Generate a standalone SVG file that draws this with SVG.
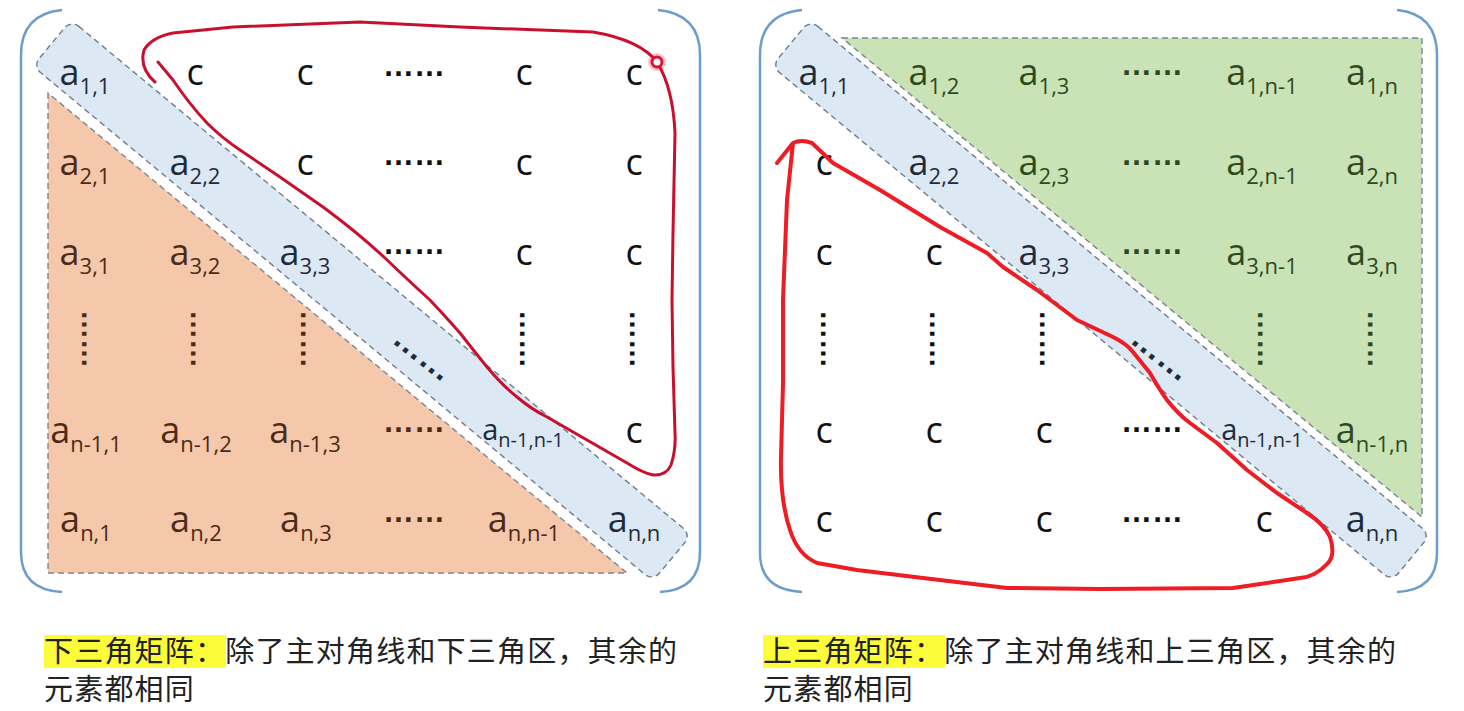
<svg xmlns="http://www.w3.org/2000/svg" width="1464" height="711" viewBox="0 0 1464 711">
<style>
.br{fill:none;stroke:#6c9dcb;stroke-width:2.5}
.reg{stroke:#7b8794;stroke-width:1.4;stroke-dasharray:6 4}
.of{fill:#f5c7ab}
.gf{fill:#c9e2b6}
.band{fill:#dce8f4;stroke:#6f7d8c;stroke-width:1.4;stroke-dasharray:6 4}
.m{font-family:"Open Sans","Noto Sans",sans-serif;font-size:36px;text-anchor:middle}
.s{font-size:22px}
.sm{font-size:29px}
.ss{font-size:20px}
.cb{fill:#1f2b3b}
.co{fill:#4b2b16}
.cg{fill:#2d4a1e}
.ck{fill:#111}
.d{font-family:"Liberation Sans",sans-serif;font-weight:bold;font-size:31px}
.dv{font-family:"Liberation Sans",sans-serif;font-weight:bold;font-size:29px}
.dd{font-family:"Liberation Sans",sans-serif;font-weight:bold;font-size:33px}
.cap{font-family:"Noto Sans CJK SC",sans-serif;font-size:29px;letter-spacing:1.2px;fill:#222}
.hl{fill:#fdfc3a}
.ink1{fill:none;stroke:#c8102e;stroke-width:3;stroke-linecap:round;stroke-linejoin:round}
.ink2{fill:none;stroke:#ee1c25;stroke-width:4;stroke-linecap:round;stroke-linejoin:round}
</style>
<rect width="1464" height="711" fill="#ffffff"/>

<g id="lower-matrix">
  <g id="lower-brackets">
    <path class="br" d="M62,10 Q21,14 21,55 L21,552 Q21,590 62,592"/>
    <path class="br" d="M658,10 Q700,14 700,55 L700,552 Q700,590 660,592"/>
  </g>
  <g id="lower-triangle">
    <polygon class="of reg" points="48,93 48,573 627,573"/>
  </g>
  <g id="lower-diagonal">
    <rect class="band" x="-41" y="270.5" width="806" height="60" rx="10" transform="rotate(39.7 362 300.5)"/>
  </g>
  <g id="lower-cells">
    <text class="m cb" x="85" y="85">a<tspan class="s" dy="9">1,1</tspan></text>
    <text class="m ck" x="195" y="85">c</text>
    <text class="m ck" x="305" y="85">c</text>
    <text class="d ck" x="383" y="76">……</text>
    <text class="m ck" x="524" y="85">c</text>
    <text class="m ck" x="634" y="85">c</text>

    <text class="m co" x="85" y="175">a<tspan class="s" dy="9">2,1</tspan></text>
    <text class="m cb" x="195" y="175">a<tspan class="s" dy="9">2,2</tspan></text>
    <text class="m ck" x="305" y="175">c</text>
    <text class="d ck" x="383" y="165">……</text>
    <text class="m ck" x="524" y="175">c</text>
    <text class="m ck" x="634" y="175">c</text>

    <text class="m co" x="85" y="265">a<tspan class="s" dy="9">3,1</tspan></text>
    <text class="m co" x="195" y="265">a<tspan class="s" dy="9">3,2</tspan></text>
    <text class="m cb" x="305" y="265">a<tspan class="s" dy="9">3,3</tspan></text>
    <text class="d ck" x="383" y="254">……</text>
    <text class="m ck" x="524" y="265">c</text>
    <text class="m ck" x="634" y="265">c</text>

    <text class="dv co" transform="translate(82 310) rotate(90)">……</text>
    <text class="dv co" transform="translate(191 310) rotate(90)">……</text>
    <text class="dv co" transform="translate(301 310) rotate(90)">……</text>
    <text class="dd cb" transform="translate(391 342) rotate(38.3)">……</text>
    <text class="dv ck" transform="translate(520 310) rotate(90)">……</text>
    <text class="dv ck" transform="translate(630 310) rotate(90)">……</text>

    <text class="m co" x="86" y="443">a<tspan class="s" dy="9">n-1,1</tspan></text>
    <text class="m co" x="196" y="443">a<tspan class="s" dy="9">n-1,2</tspan></text>
    <text class="m co" x="305" y="443">a<tspan class="s" dy="9">n-1,3</tspan></text>
    <text class="d co" x="383" y="432">……</text>
    <text class="m sm cb" x="523" y="440">a<tspan class="ss" dy="7">n-1,n-1</tspan></text>
    <text class="m ck" x="634" y="443">c</text>

    <text class="m co" x="86" y="532">a<tspan class="s" dy="9">n,1</tspan></text>
    <text class="m co" x="196" y="532">a<tspan class="s" dy="9">n,2</tspan></text>
    <text class="m co" x="306" y="532">a<tspan class="s" dy="9">n,3</tspan></text>
    <text class="d co" x="383" y="522">……</text>
    <text class="m co" x="524" y="532">a<tspan class="s" dy="9">n,n-1</tspan></text>
    <text class="m cb" x="634" y="532">a<tspan class="s" dy="9">n,n</tspan></text>
  </g>
  <g id="lower-caption">
    <rect class="hl" x="44" y="635" width="182" height="33"/>
    <text class="cap" x="44" y="662">下三角矩阵：除了主对角线和下三角区，其余的</text>
    <text class="cap" x="44" y="700">元素都相同</text>
  </g>
</g>

<g id="upper-matrix">
  <g id="upper-brackets">
    <path class="br" d="M802,10 Q760,14 760,55 L760,553 Q760,590 802,592"/>
    <path class="br" d="M1397,10 Q1437,14 1437,55 L1437,553 Q1437,590 1397,592"/>
  </g>
  <g id="upper-triangle">
    <polygon class="gf reg" points="842,38 1422,38 1422,517"/>
  </g>
  <g id="upper-diagonal">
    <rect class="band" x="698" y="270.5" width="806" height="60" rx="10" transform="rotate(39.7 1101 300.5)"/>
  </g>
  <g id="upper-cells">
    <text class="m cb" x="824" y="85">a<tspan class="s" dy="9">1,1</tspan></text>
    <text class="m cg" x="934" y="85">a<tspan class="s" dy="9">1,2</tspan></text>
    <text class="m cg" x="1044" y="85">a<tspan class="s" dy="9">1,3</tspan></text>
    <text class="d cg" x="1121" y="75">……</text>
    <text class="m cg" x="1262" y="85">a<tspan class="s" dy="9">1,n-1</tspan></text>
    <text class="m cg" x="1372" y="85">a<tspan class="s" dy="9">1,n</tspan></text>

    <text class="m ck" x="824" y="175">c</text>
    <text class="m cb" x="934" y="175">a<tspan class="s" dy="9">2,2</tspan></text>
    <text class="m cg" x="1044" y="175">a<tspan class="s" dy="9">2,3</tspan></text>
    <text class="d cg" x="1121" y="165">……</text>
    <text class="m cg" x="1262" y="175">a<tspan class="s" dy="9">2,n-1</tspan></text>
    <text class="m cg" x="1372" y="175">a<tspan class="s" dy="9">2,n</tspan></text>

    <text class="m ck" x="824" y="265">c</text>
    <text class="m ck" x="934" y="265">c</text>
    <text class="m cb" x="1044" y="265">a<tspan class="s" dy="9">3,3</tspan></text>
    <text class="d cg" x="1121" y="254">……</text>
    <text class="m cg" x="1262" y="265">a<tspan class="s" dy="9">3,n-1</tspan></text>
    <text class="m cg" x="1372" y="265">a<tspan class="s" dy="9">3,n</tspan></text>

    <text class="dv ck" transform="translate(821 310) rotate(90)">……</text>
    <text class="dv ck" transform="translate(930 310) rotate(90)">……</text>
    <text class="dv ck" transform="translate(1040 310) rotate(90)">……</text>
    <text class="dd cb" transform="translate(1129 342) rotate(38.3)">……</text>
    <text class="dv cg" transform="translate(1258 310) rotate(90)">……</text>
    <text class="dv cg" transform="translate(1368 310) rotate(90)">……</text>

    <text class="m ck" x="824" y="443">c</text>
    <text class="m ck" x="934" y="443">c</text>
    <text class="m ck" x="1044" y="443">c</text>
    <text class="d ck" x="1121" y="432">……</text>
    <text class="m sm cb" x="1262" y="440">a<tspan class="ss" dy="7">n-1,n-1</tspan></text>
    <text class="m cg" x="1372" y="443">a<tspan class="s" dy="9">n-1,n</tspan></text>

    <text class="m ck" x="824" y="532">c</text>
    <text class="m ck" x="934" y="532">c</text>
    <text class="m ck" x="1044" y="532">c</text>
    <text class="d ck" x="1121" y="522">……</text>
    <text class="m ck" x="1264" y="532">c</text>
    <text class="m cb" x="1372" y="532">a<tspan class="s" dy="9">n,n</tspan></text>
  </g>
  <g id="upper-caption">
    <rect class="hl" x="763" y="635" width="182" height="33"/>
    <text class="cap" x="763" y="662">上三角矩阵：除了主对角线和上三角区，其余的</text>
    <text class="cap" x="763" y="700">元素都相同</text>
  </g>
</g>

<g id="connectors">
  <path class="ink1" d="M158,62 L173,80 Q190,105 207,123 Q222,138 240,150 L280,177 L323,207 Q357,232 385,258 Q410,282 430,300 Q446,317 460,333 Q474,351 487,367 Q503,386 517,397 Q531,409 547,417 L587,440 L627,463 Q643,473 653,475 Q666,476 671,465 Q676,450 675,433 L673,367 L672,300 L673,233 L675,133 Q673,88 657,62 Q640,40 593,32 L460,27 L360,22 L233,27 L173,33 Q152,37 144,50 Q139,68 155,82"/>
  <circle cx="657" cy="62" r="9" fill="#e8102e" opacity="0.25"/>
  <circle cx="657" cy="62" r="5" fill="#ffffff" stroke="#e0102e" stroke-width="3"/>
  <path class="ink2" d="M777,163 L793,143 Q801,139 812,143 L833,163 L880,190 L940,227 L987,253 L1003,267 L1037,290 L1077,320 L1113,337 Q1127,344 1133,352 L1150,373 Q1159,389 1167,400 Q1178,414 1190,423 L1217,443 L1247,470 L1277,493 L1307,513 Q1325,525 1330,537 Q1336,556 1327,564 Q1315,577 1300,578 L1233,588 L1100,589 L1007,588 L923,578 L857,570 L817,563 Q798,555 790,530 Q780,500 781,457 L783,383 L783,300 L787,200 L793,143"/>
</g>
</svg>
